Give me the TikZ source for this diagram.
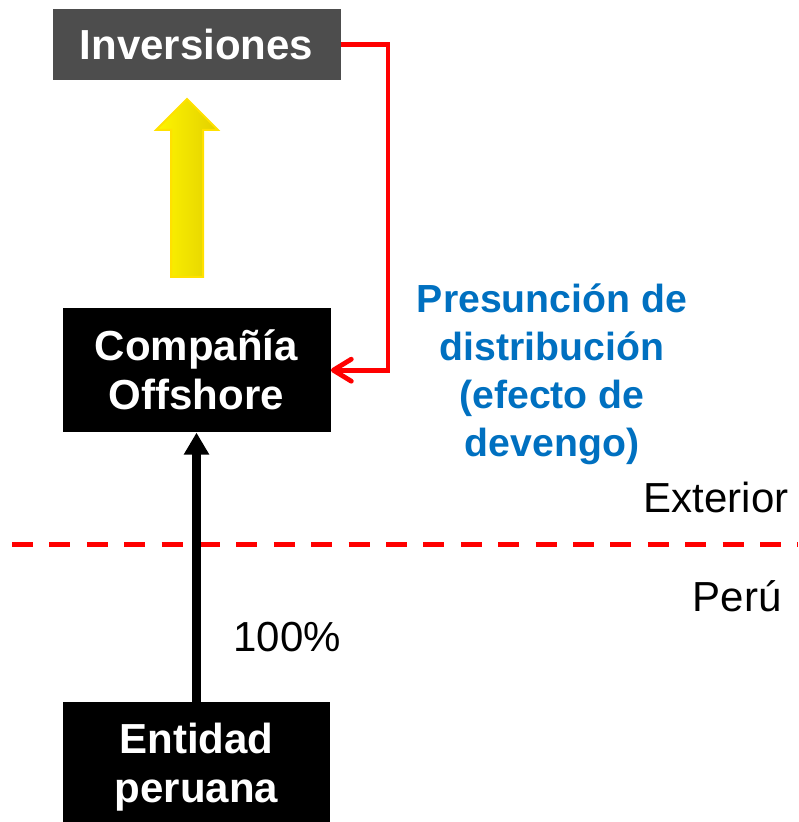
\documentclass[tikz,border=0pt]{standalone}
\usepackage{fontspec}
\setmainfont{Liberation Sans}
\usetikzlibrary{arrows.meta, positioning}
\definecolor{grisCaja}{HTML}{4D4D4D}
\definecolor{azulTexto}{HTML}{0070C0}
\definecolor{amarilloClaro}{HTML}{FFF500}
\definecolor{amarilloOscuro}{HTML}{E2D000}
\definecolor{amarilloBorde}{HTML}{FFE100}
\newcommand{\caja}[3][]{
  \node(#2)[
    caja,
    #1
  ] {#3};
}
\tikzset{
  caja/.style = {
    fill=black,
    text=white,
    align=center,
    inner sep=0pt,
    font=\fontsize{21}{24.5}\selectfont\bfseries,
  },
  etiqueta/.style = {
    inner sep=0pt,
    font=\fontsize{21}{24}\selectfont,
  },
  presuncion/.style = {
    inner sep=0pt,
    align=center,
    text=azulTexto,
    font=\fontsize{19.6}{24}\selectfont\bfseries,
  },
  devengo/.style = {
    draw=red,
    line width=2.4pt,
    -{Straight Barb[length=9pt, width=11pt, round]},
  },
  posee/.style = {
    line width=4.5pt,
    -{Triangle[length=11pt, width=12pt]},
  },
  frontera/.style = {
    draw=red,
    line width=2.5pt,
    dash pattern=on 10.5pt off 8.2pt,
  },
  flechaAmarilla/.style = {
    draw=amarilloBorde,
    line width=1pt,
    left color=amarilloClaro,
    right color=amarilloOscuro,
  },
}

\begin{document}
\begin{tikzpicture}[x=0.5pt, y=-0.5pt]

\useasboundingbox (0,0) rectangle (798,822);

\caja[at={(196.5,767)}, minimum width=133.5pt, minimum height=65pt]{ent}{Entidad\\peruana}

\caja[above=134.5pt of ent, minimum width=134pt, minimum height=62pt]{comp}{Compañía\\Offshore}

\caja[above=113.5pt of comp, fill=grisCaja, minimum width=144pt, minimum height=35.5pt]{inv}{Inversiones}

% flecha amarilla entre las cajas
\path[flechaAmarilla] (187,99) -- (218,130) -- (203,130) -- (203,277)
  -- (171,277) -- (171,130) -- (156,130) -- cycle;

\draw[devengo] (inv.east) -- ++(47,0) |- (comp.east);

\node(presuncion)[presuncion] at (552,374) {Presunción de\\distribución\\(efecto de\\devengo)};

% frontera Exterior / Perú
\coordinate (fronteraIzq) at (12,544);
\coordinate (fronteraDer) at (798,544);
\draw[frontera] (fronteraIzq) -- (fronteraDer);

\draw[posee] (ent.north) -- (ent.north |- comp.south);

\node(exterior)[etiqueta, anchor=base east] at (789,512.7) {Exterior};
\node(peru)[etiqueta, anchor=base east] at (782,611.7) {Perú};
\node(porcentaje)[etiqueta, anchor=base west] at (233,651.7) {100\%};

\end{tikzpicture}
\end{document}
